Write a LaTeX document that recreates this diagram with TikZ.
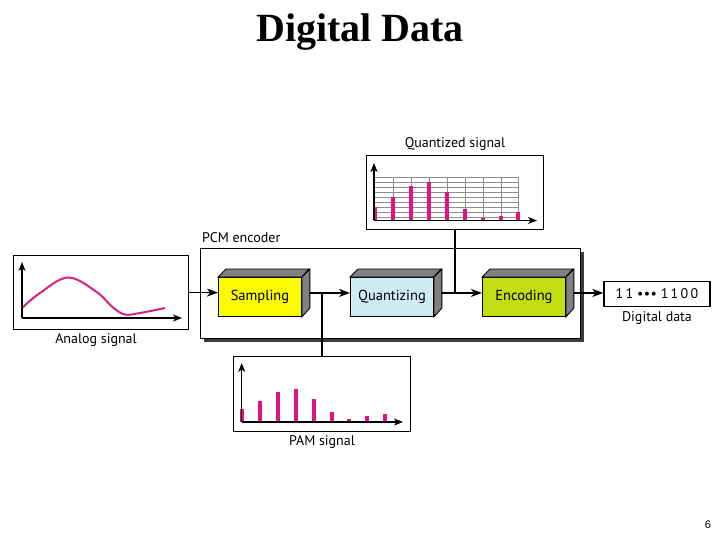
\documentclass[tikz,border=0pt]{standalone}
\usepackage{fontspec}
\setmainfont{PT Sans}
\newfontfamily\titlefont{Liberation Serif}
\newfontfamily\numfont{Liberation Sans}
\usetikzlibrary{arrows.meta,calc}

\definecolor{pinkbar}{RGB}{222,20,128}
\definecolor{curvecol}{RGB}{214,34,128}
\definecolor{sampcol}{RGB}{250,250,0}
\definecolor{quantcol}{RGB}{206,234,242}
\definecolor{enccol}{RGB}{192,222,16}
\definecolor{sidegray}{RGB}{128,128,128}
\definecolor{gridgray}{RGB}{140,140,140}
\definecolor{shadowgray}{RGB}{60,60,60}

\begin{document}
\begin{tikzpicture}[x=1pt,y=-1pt,
  lbl/.style={font=\fontsize{14}{16}\selectfont, inner sep=0pt},
  frame/.style={draw=black, line width=1.2pt, fill=white, inner sep=0pt},
  blockbox/.style={draw=black, line width=0.9pt, inner sep=0pt, minimum width=83pt, minimum height=39pt, anchor=north west, font=\fontsize{14.5}{16}\selectfont},
  face/.style={draw=black, line width=0.9pt, fill=sidegray},
  conn/.style={line width=1.2pt},
  arr/.style={conn, -{Stealth[length=11pt,width=8pt,inset=3pt]}},
  ax/.style={line width=1.2pt, -{Stealth[length=9pt,width=7pt,inset=2.5pt]}},
  bar/.style={fill=pinkbar, draw=none},
  gridln/.style={draw=gridgray, line width=0.6pt},
]
\useasboundingbox (0,0) rectangle (720,540);

% title and page number
\node[font=\titlefont\bfseries\fontsize{40}{44}\selectfont, inner sep=0pt] (title) at (360,32) {Digital Data};
\node[font=\numfont\fontsize{11}{13}\selectfont, inner sep=0pt] (pnum) at (708,525) {6};

% PCM encoder frame with shadow
\fill[shadowgray] (203.5,251.5) rectangle (583.5,341.5);
\node[frame, minimum width=380pt, minimum height=90pt, anchor=north west] (pcm) at (200,248) {};
\node[lbl, anchor=west] (pcmlbl) at (202,238) {PCM encoder};

% 3D blocks
\node[blockbox, fill=sampcol] (samp) at (218,277) {Sampling};
\node[blockbox, fill=quantcol] (quant) at (350,277) {Quantizing};
\node[blockbox, fill=enccol] (enc) at (482,277) {Encoding};
\foreach \b in {samp,quant,enc}{
  \draw[face] (\b.north west) -- ++(8,-8) -- ++(83,0) -- (\b.north east) -- cycle;
  \draw[face] (\b.north east) -- ++(8,-8) -- ++(0,39) -- (\b.south east) -- cycle;
}
\coordinate (sampR) at ($(samp.east)+(8,-4)$);
\coordinate (quantR) at ($(quant.east)+(8,-4)$);
\coordinate (encR) at ($(enc.east)+(8,-4)$);

% Analog signal box
\node[frame, minimum width=175pt, minimum height=74pt, anchor=north west] (analog) at (13,255) {};
\node[lbl] (analoglbl) at (96,340) {Analog signal};
\draw[curvecol, line width=2pt] plot[smooth, tension=0.6] coordinates {(22,308) (40,293) (68,277.5) (96,291.5) (113,307.5) (125,314.5) (140,313) (165,308)};
\coordinate (aO) at (22,318);
\draw[ax] (aO) -- (22,262);
\draw[ax] (aO) -- (182,318);

% Quantized signal box
\node[frame, minimum width=177pt, minimum height=74pt, anchor=north west] (qsig) at (366,155) {};
\node[lbl] (qsiglbl) at (455,144) {Quantized signal};
\foreach \yy in {177,182,...,217}{ \draw[gridln] (375,\yy) -- (518.5,\yy); }
\foreach \xx in {393,411,429,447,465,483,501,518}{ \draw[gridln] (\xx,177) -- (\xx,220); }
\foreach \xx/\tp in {375/207,393/197,411/186,429/182,447/192.5,465/209,483/218,501/216,518/212}{
  \fill[bar] (\xx-2.4,\tp) rectangle (\xx+2.4,220.5);
}
\coordinate (qO) at (374,220.5);
\draw[ax] (qO) -- (374,163);
\draw[ax] (qO) -- (537,220.5);

% PAM signal box
\node[frame, minimum width=177pt, minimum height=75pt, anchor=north west] (pam) at (233,356) {};
\node[lbl] (pamlbl) at (322,442) {PAM signal};
\foreach \xx/\tp in {242/409,260/401,278/391.5,296/389,314/399,332/412,349/419,367/416,385/414}{
  \fill[bar] (\xx-2.4,\tp) rectangle (\xx+2.4,422);
}
\coordinate (pO) at (241.7,422);
\draw[ax] (pO) -- (241.7,363);
\draw[ax] (pO) -- (403,422);

% Digital data box
\node[frame, minimum width=106pt, minimum height=25pt] (dig) at (657,294) {\fontsize{14}{16}\selectfont 1\,1 •\kern0.5pt•\kern0.5pt• 1\,1\,0\,0};
\node[lbl] (diglbl) at (657,318) {Digital data};

% connectors
\draw[arr] (analog.east) -- (analog.east -| samp.west);
\draw[arr] (sampR) -- (sampR -| quant.west);
\draw[arr] (quantR) -- (quantR -| enc.west);
\draw[arr] (encR) -- (encR -| dig.west);
\coordinate (j1) at (322,292.5);
\coordinate (j2) at (455,292.5);
\draw[conn] (j1) -- (j1 |- pam.north);
\draw[conn] (j2) -- (j2 |- qsig.south);
\end{tikzpicture}
\end{document}
